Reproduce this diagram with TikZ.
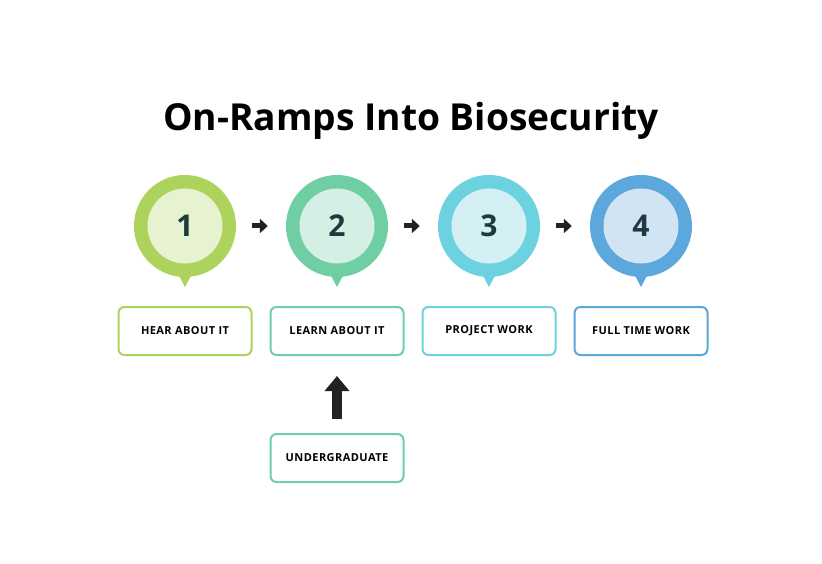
\documentclass[tikz,border=0pt]{standalone}
\usepackage{fontspec}
\setmainfont{Open Sans}
\usepackage{tikz}
\usetikzlibrary{arrows.meta}
\usetikzlibrary{math}
\definecolor{stepone}{HTML}{AED35C}
\definecolor{steponelight}{HTML}{E7F2D1}
\definecolor{steptwo}{HTML}{6FCFA3}
\definecolor{steptwolight}{HTML}{D4EFE3}
\definecolor{stepthree}{HTML}{6CD2E0}
\definecolor{stepthreelight}{HTML}{D4F0F4}
\definecolor{stepfour}{HTML}{5CA7DB}
\definecolor{stepfourlight}{HTML}{D1E4F4}
\definecolor{numbertext}{HTML}{1E3A3C}
\definecolor{arrowblack}{HTML}{222222}

\tikzset{
    stagebox/.style={draw, line width=2pt, rounded corners=6pt, fill=white,
        minimum width=133pt, minimum height=48pt, inner sep=0pt,
        font=\fontsize{11}{13}\selectfont\bfseries\addfontfeatures{LetterSpace=4}},
    numbertag/.style={font=\fontsize{30}{32}\selectfont\bfseries, text=numbertext},
    smallarrow/.style={arrowblack, line width=5pt, -{Triangle[length=8pt,width=14pt]}},
    bigarrow/.style={arrowblack, line width=10pt, -{Triangle[length=15pt,width=24pt]}},
}

\begin{document}
\begin{tikzpicture}[x=1pt,y=-1pt]

% Position settings
\tikzmath{
    % Pin row
    \ypin = 226;
    \rpinouter = 51;
    \rpininner = 37.5;
    \ypintip = 287;
    \ypinbase = 270;
    \wpinbase = 9;
    % Box rows
    \yboxtop = 331;
    \yboxbottom = 458;
    % Columns
    \xone = 185;
    \xtwo = 337;
    \xthree = 489;
    \xfour = 641;
}

\useasboundingbox[fill=white] (0,0) rectangle (822,564);

% Title
\node[font=\fontsize{37.2}{42}\selectfont\bfseries] (title) at (411,121) {On-Ramps Into Biosecurity};

% Draws the four pins
\foreach \xc/\col/\num in {\xone/stepone/1, \xtwo/steptwo/2, \xthree/stepthree/3, \xfour/stepfour/4}{
    \fill[\col] (\xc,\ypin) circle[radius=\rpinouter];
    \fill[\col] (\xc-\wpinbase,\ypinbase) -- (\xc,\ypintip) -- (\xc+\wpinbase,\ypinbase) -- cycle;
    \fill[\col light] (\xc,\ypin) circle[radius=\rpininner];
    \node[numbertag, circle, minimum size=2*\rpinouter, inner sep=0pt] (pin\num) at (\xc,\ypin) {\num};
}

% Draws the stage boxes
\node[stagebox, draw=stepone] (hear) at (\xone,\yboxtop) {HEAR ABOUT IT};
\node[stagebox, draw=steptwo] (learn) at (\xtwo,\yboxtop) {LEARN ABOUT IT};
\node[stagebox, draw=stepthree] (project) at (\xthree,\yboxtop) {PROJECT WORK};
\node[stagebox, draw=stepfour] (fulltime) at (\xfour,\yboxtop) {FULL TIME WORK};
\node[stagebox, draw=steptwo] (undergrad) at (\xtwo,\yboxbottom) {UNDERGRADUATE};

% Arrows between pins
\draw[smallarrow, shorten <=16pt, shorten >=18pt] (pin1.east) -- (pin2.west);
\draw[smallarrow, shorten <=16pt, shorten >=18pt] (pin2.east) -- (pin3.west);
\draw[smallarrow, shorten <=16pt, shorten >=18pt] (pin3.east) -- (pin4.west);

% Undergraduate feeds into learning
\draw[bigarrow, shorten <=14pt, shorten >=20pt] (undergrad.north) -- (learn.south);

\end{tikzpicture}
\end{document}
